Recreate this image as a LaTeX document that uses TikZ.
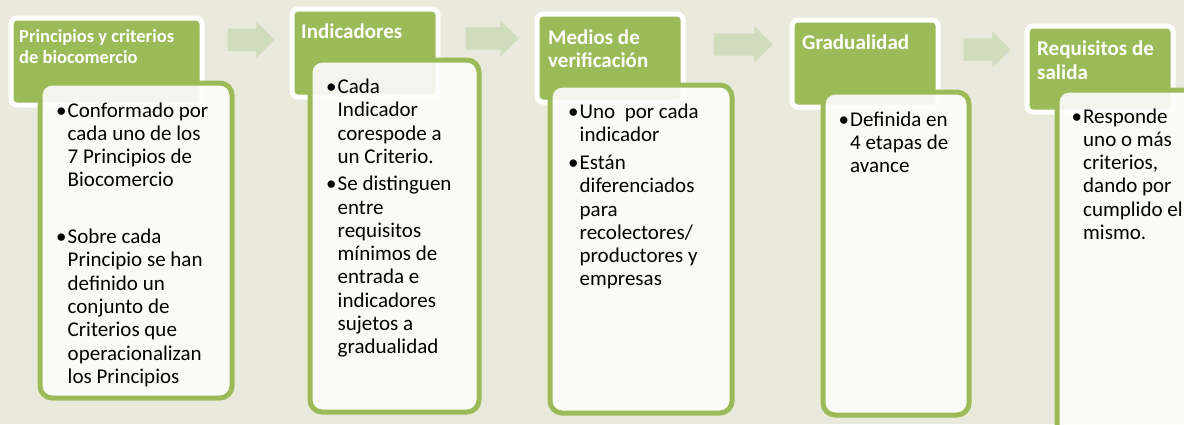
\documentclass[tikz,border=0pt]{standalone}
\usepackage{fontspec}
\setmainfont{Carlito}
\usetikzlibrary{shapes.arrows,positioning}
\definecolor{bgbeige}{RGB}{234,234,220}
\definecolor{leafgreen}{RGB}{155,187,89}
\definecolor{palegreen}{RGB}{207,221,189}
\definecolor{paper}{RGB}{252,252,250}
\newcommand{\bulletline}[1]{\hbox to 10pt{\hskip-1.5pt\textbullet\hss}\begin{tabular}[t]{@{}l@{}}#1\end{tabular}}
\tikzset{
	header/.style={rectangle, rounded corners=6pt, draw=white, line width=5pt, fill=leafgreen, anchor=north west, inner sep=0pt},
	panel/.style={rectangle, rounded corners=12pt, draw=leafgreen, line width=5pt, fill=paper, fill opacity=0.92, anchor=north west, inner sep=0pt},
	headtext/.style={anchor=north west, inner sep=0pt, align=left, text=white, font=\fontsize{21}{23.3}\selectfont\bfseries},
	paneltext/.style={anchor=north west, inner sep=0pt, align=left, font=\fontsize{21}{23.3}\selectfont},
	stepper/.style={single arrow, fill=palegreen, draw=none, single arrow head extend=7pt, inner sep=0pt}
}
\begin{document}
\begin{tikzpicture}[x=1pt, y=-1pt]
	\useasboundingbox (0,0) rectangle (1184,424);
	\fill[bgbeige] (0,0) rectangle (1184,424);
	\clip (0,0) rectangle (1184,424);

	\node[header, minimum width=191pt, minimum height=87pt] (prin) at (8.5,15.5) {};
	\node[header, minimum width=146pt, minimum height=88pt] (indic) at (289.5,6.5) {};
	\node[header, minimum width=146pt, minimum height=88pt] (medios) at (534.5,11.5) {};
	\node[header, minimum width=146pt, minimum height=87pt] (grad) at (789.5,17.5) {};
	\node[header, minimum width=146pt, minimum height=86pt] (req) at (1024.5,23.5) {};

	\node[panel, minimum width=192pt, minimum height=315pt] (prinbody) at (37.5,80.5) {};
	\node[panel, minimum width=169pt, minimum height=352pt] (indicbody) at (307.5,57.5) {};
	\node[panel, minimum width=182pt, minimum height=328pt] (mediosbody) at (547.5,82.5) {};
	\node[panel, minimum width=146pt, minimum height=323pt] (gradbody) at (820.5,89.5) {};
	\node[panel, minimum width=160pt, minimum height=360pt] (reqbody) at (1054.5,87.5) {};

	\node[stepper, minimum height=47pt] (step1) at (245.5,39.8) {\rule{0pt}{22pt}};
	\node[stepper, minimum height=53pt] (step2) at (486.5,38.5) {\rule{0pt}{22pt}};
	\node[stepper, minimum height=59pt] (step3) at (737.5,44.5) {\rule{0pt}{22pt}};
	\node[stepper, minimum height=47pt] (step4) at (981.5,49.5) {\rule{0pt}{22pt}};

	\node[headtext, font=\fontsize{18.5}{20.5}\selectfont\bfseries] (printitle) at ([xshift=10.5pt, yshift=-14pt]prin.north west) {Principios y criterios\\de biocomercio};
	\node[headtext] (indictitle) at ([xshift=11.5pt, yshift=-17pt]indic.north west) {Indicadores};
	\node[headtext] (mediostitle) at ([xshift=13.5pt, yshift=-18pt]medios.north west) {Medios de\\verificación};
	\node[headtext] (gradtitle) at ([xshift=12.5pt, yshift=-17pt]grad.north west) {Gradualidad};
	\node[headtext] (reqtitle) at ([xshift=12.5pt, yshift=-17.5pt]req.north west) {Requisitos de\\salida};

	\node[paneltext] (printext) at ([xshift=20pt, yshift=-20pt]prinbody.north west) {%
		\bulletline{Conformado por\\cada uno de los\\7 Principios de\\Biocomercio}\\[32.4pt]
		\bulletline{Sobre cada\\Principio se han\\definido un\\conjunto de\\Criterios que\\operacionalizan\\los Principios}};
	\node[paneltext] (indictext) at ([xshift=20pt, yshift=-19.5pt]indicbody.north west) {%
		\bulletline{Cada\\Indicador\\corespode a\\un Criterio.}\\[3pt]
		\bulletline{Se distinguen\\entre\\requisitos\\mínimos de\\entrada e\\indicadores\\sujetos a\\gradualidad}};
	\node[paneltext] (mediostext) at ([xshift=22pt, yshift=-19.5pt]mediosbody.north west) {%
		\bulletline{Uno~ por cada\\indicador}\\[3.3pt]
		\bulletline{Están\\diferenciados\\para\\recolectores/\\productores y\\empresas}};
	\node[paneltext] (gradtext) at ([xshift=19.5pt, yshift=-20pt]gradbody.north west) {%
		\bulletline{Definida en\\4 etapas de\\avance}};
	\node[paneltext] (reqtext) at ([xshift=18.5pt, yshift=-19pt]reqbody.north west) {%
		\bulletline{Responde\\uno o más\\criterios,\\dando por\\cumplido el\\mismo.}};
\end{tikzpicture}
\end{document}
